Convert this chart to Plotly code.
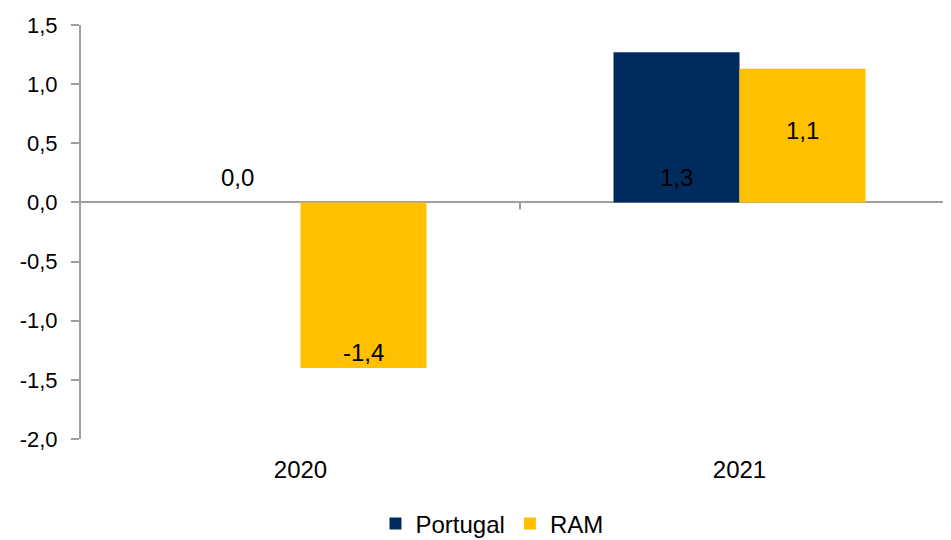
import plotly.graph_objects as go

years = ["2020", "2021"]
portugal = [0.0, 1.27]
ram = [-1.4, 1.13]
series_names = ["Portugal", "RAM"]
colors = ["#002B5C", "#FFC000"]
y_ticks = [-2.0, -1.5, -1.0, -0.5, 0.0, 0.5, 1.0, 1.5]

FONT = "Arial, Liberation Sans, sans-serif"
AX = "#A0A0A0"
LBL = 24


def fmt(v):
    return f"{v:.1f}".replace(".", ",")


fig = go.Figure()
for name, vals, col in zip(series_names, [portugal, ram], colors):
    fig.add_trace(go.Bar(x=years, y=vals, name=name, marker=dict(color=col, line=dict(width=0)),
                         hoverinfo="skip"))

# data labels (category index positions, shifted onto each bar of the group)
offset_px = 63
for i, yr in enumerate(years):
    fig.add_annotation(xref="x", yref="y", x=i, y=0, text=fmt(portugal[i]), showarrow=False,
                       xshift=-offset_px, yshift=25, font=dict(family=FONT, size=LBL, color="#000"))
    if ram[i] < 0:
        fig.add_annotation(xref="x", yref="y", x=i, y=ram[i], text=fmt(ram[i]), showarrow=False,
                           xshift=offset_px, yshift=16, font=dict(family=FONT, size=LBL, color="#000"))
    else:
        fig.add_annotation(xref="x", yref="y", x=i, y=ram[i] / 2, text=fmt(ram[i]), showarrow=False,
                           xshift=offset_px, yshift=5, font=dict(family=FONT, size=LBL, color="#000"))

# category-boundary tick marks hanging from the zero line
for i in range(len(years) - 1):
    fig.add_shape(type="line", xref="x", yref="y", x0=i + 0.5, x1=i + 0.5,
                  ysizemode="pixel", yanchor=0, y0=0, y1=-7,
                  line=dict(color=AX, width=2))

xrange = [-0.5, 1.5]
fig.update_layout(
    width=951, height=540,
    margin=dict(l=73, r=0, t=17, b=109),
    paper_bgcolor="white", plot_bgcolor="white",
    separators=",.",
    barmode="group", bargap=0.426, bargroupgap=0,
    font=dict(family=FONT, size=LBL, color="#000"),
    xaxis=dict(type="category", categoryarray=years, range=xrange, showline=False, showgrid=False,
               zeroline=False, ticks="", ticklabelstandoff=14, tickfont=dict(size=LBL)),
    yaxis=dict(range=[-2.0, 1.5], tickvals=y_ticks, ticktext=[fmt(v) for v in y_ticks],
               showline=True, linecolor=AX,
               linewidth=2, ticks="outside", ticklen=8, tickcolor=AX, tickwidth=2, showgrid=False,
               zeroline=True, zerolinecolor=AX, zerolinewidth=2,
               ticklabelstandoff=9, tickfont=dict(size=22)),
    legend=dict(orientation="h", x=0.4681, xanchor="center", y=-0.2053, yanchor="middle",
                font=dict(size=LBL), traceorder="normal"),
)

fig.write_html("out.html")
